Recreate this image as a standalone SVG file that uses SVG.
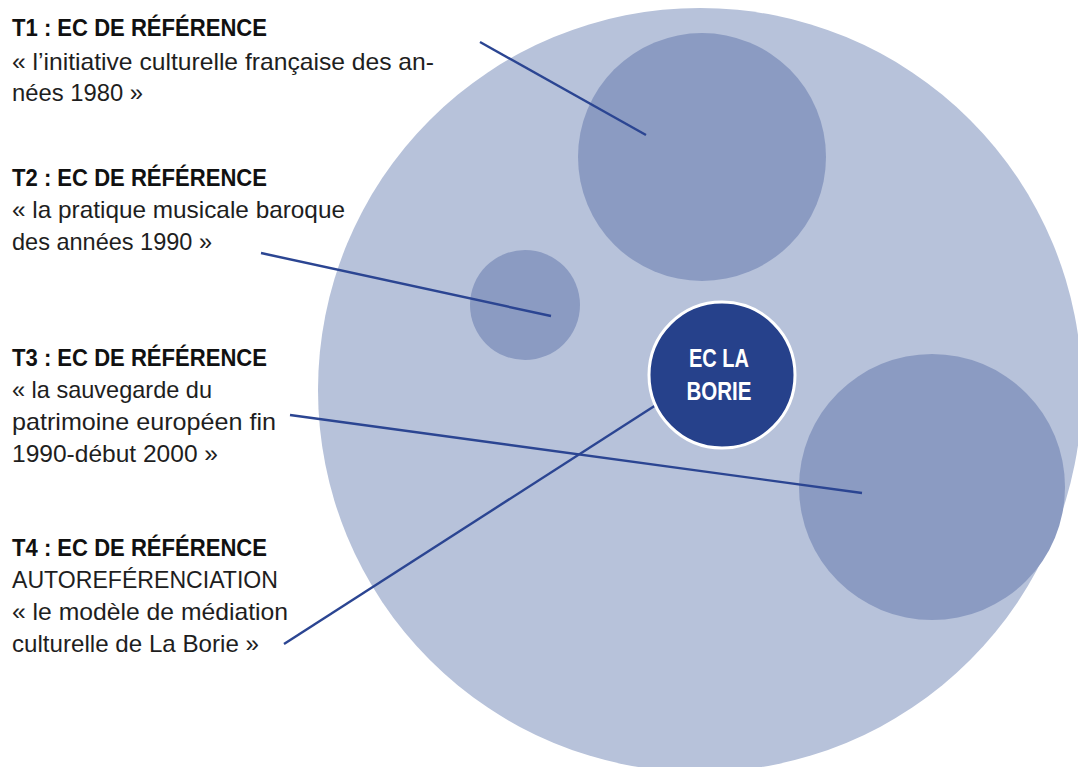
<svg xmlns="http://www.w3.org/2000/svg" width="1078" height="767" viewBox="0 0 1078 767">
<style>
.bg{fill:#b7c2da}
.sub{fill:#8b9bc2}
.core{fill:#26418b;stroke:#ffffff;stroke-width:3}
.conn{stroke:#2b4592;stroke-width:2.4;fill:none}
.t{font-family:"Liberation Sans",Arial,sans-serif;font-size:24px;fill:#1e1e1e}
.h{font-family:"Liberation Sans",Arial,sans-serif;font-size:23px;font-weight:bold;fill:#111111}
.c{font-family:"Liberation Sans",Arial,sans-serif;font-size:25px;font-weight:bold;fill:#ffffff;text-anchor:middle}
</style>
<rect width="1078" height="767" fill="#ffffff"/>
<g id="outer"><circle class="bg" cx="700" cy="390" r="382"/></g>
<g id="c-t1"><circle class="sub" cx="702" cy="157" r="124"/></g>
<g id="c-t2"><circle class="sub" cx="525" cy="305" r="55"/></g>
<g id="c-t3"><circle class="sub" cx="932" cy="487" r="133"/></g>
<g id="connectors">
<line class="conn" x1="480" y1="42" x2="646" y2="135"/>
<line class="conn" x1="261" y1="253" x2="551" y2="316"/>
<line class="conn" x1="290" y1="415" x2="862" y2="493"/>
<line class="conn" x1="284" y1="644" x2="656" y2="405"/>
</g>
<g id="core"><circle class="core" cx="722" cy="375" r="73"/>
<text class="c" x="719" y="367" textLength="60" lengthAdjust="spacingAndGlyphs">EC LA</text>
<text class="c" x="719" y="400" textLength="65" lengthAdjust="spacingAndGlyphs">BORIE</text>
</g>
<g id="label-t1">
<text class="h" x="12" y="36" textLength="255" lengthAdjust="spacingAndGlyphs">T1 : EC DE RÉFÉRENCE</text>
<text class="t" x="12" y="70" textLength="422" lengthAdjust="spacingAndGlyphs">« l’initiative culturelle française des an-</text>
<text class="t" x="12" y="101" textLength="131" lengthAdjust="spacingAndGlyphs">nées 1980 »</text>
</g>
<g id="label-t2">
<text class="h" x="12" y="186" textLength="255" lengthAdjust="spacingAndGlyphs">T2 : EC DE RÉFÉRENCE</text>
<text class="t" x="12" y="218" textLength="333" lengthAdjust="spacingAndGlyphs">« la pratique musicale baroque</text>
<text class="t" x="12" y="250" textLength="200" lengthAdjust="spacingAndGlyphs">des années 1990 »</text>
</g>
<g id="label-t3">
<text class="h" x="12" y="366" textLength="255" lengthAdjust="spacingAndGlyphs">T3 : EC DE RÉFÉRENCE</text>
<text class="t" x="12" y="398" textLength="200" lengthAdjust="spacingAndGlyphs">« la sauvegarde du</text>
<text class="t" x="12" y="430" textLength="264" lengthAdjust="spacingAndGlyphs">patrimoine européen fin</text>
<text class="t" x="12" y="462" textLength="206" lengthAdjust="spacingAndGlyphs">1990-début 2000 »</text>
</g>
<g id="label-t4">
<text class="h" x="12" y="556" textLength="255" lengthAdjust="spacingAndGlyphs">T4 : EC DE RÉFÉRENCE</text>
<text class="t" x="12" y="588" textLength="266" lengthAdjust="spacingAndGlyphs">AUTOREFÉRENCIATION</text>
<text class="t" x="12" y="620" textLength="276" lengthAdjust="spacingAndGlyphs">« le modèle de médiation</text>
<text class="t" x="12" y="652" textLength="247" lengthAdjust="spacingAndGlyphs">culturelle de La Borie »</text>
</g>
</svg>
